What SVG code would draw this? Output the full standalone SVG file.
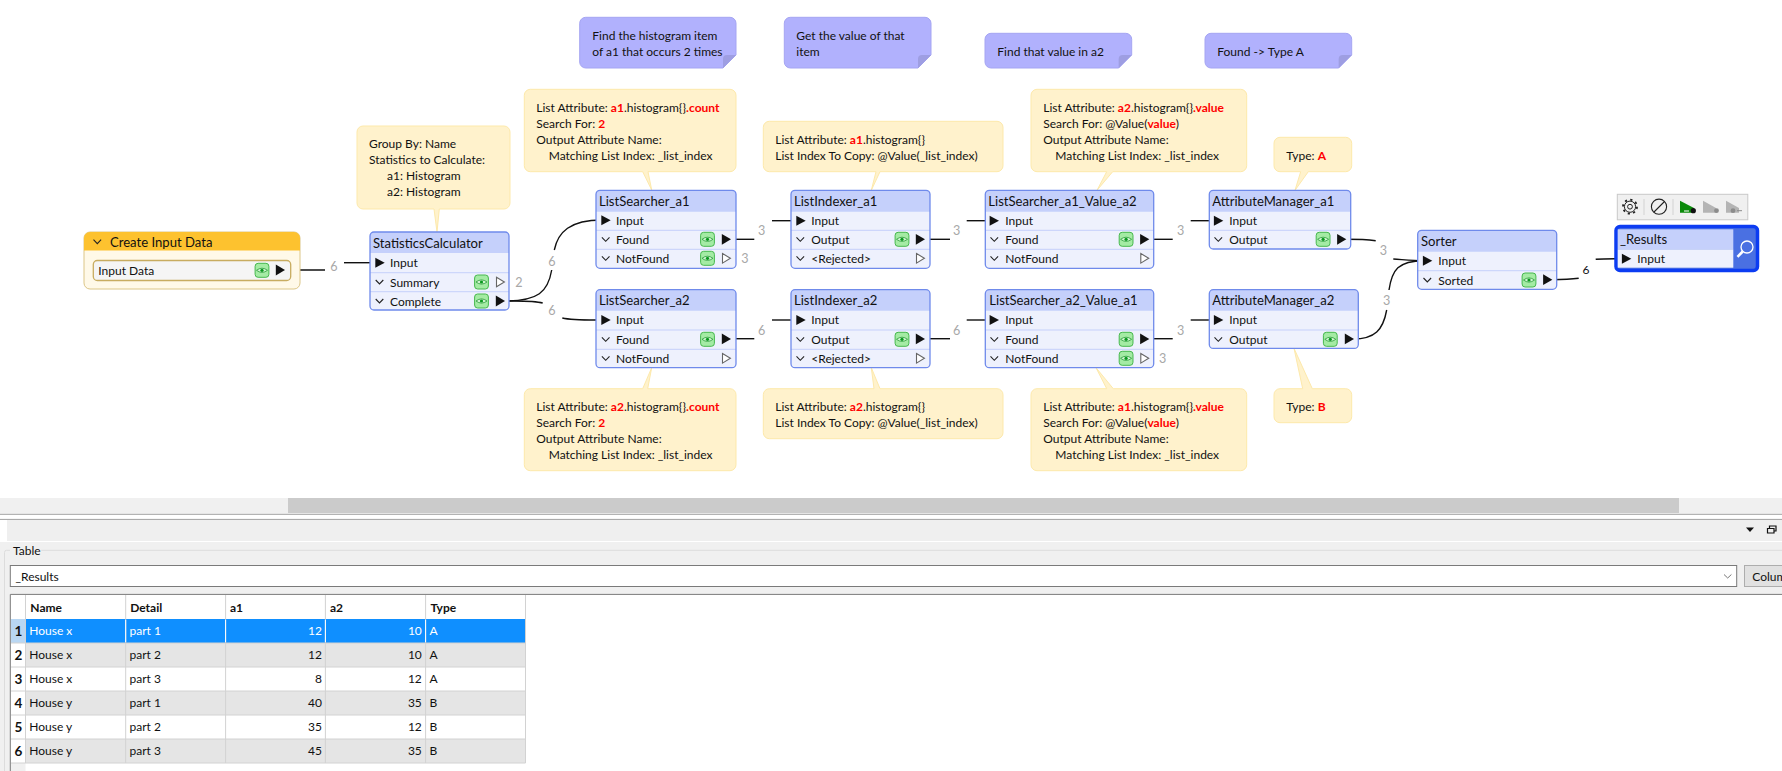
<svg xmlns="http://www.w3.org/2000/svg" width="1782" height="771" viewBox="0 0 1782 771">
<style>
text{font-family:Lato,"Open Sans","Liberation Sans",sans-serif;font-size:12px;fill:#111}
.t{font-size:13.1px}
.r{fill:#f00;font-weight:700}
.b{font-weight:700}
.n{font-weight:700;font-size:13.5px;text-anchor:middle}
.g{fill:#a8a8a8;text-anchor:middle;font-size:12.6px}
.w{fill:#fff}
.e{text-anchor:end}
.m{text-anchor:middle}
.body{fill:#eef1fd}
.head{fill:#c5d0fb}
.bord{fill:none;stroke:#6f8aeb;stroke-width:1.3}
.sep{stroke:#c5d0fb;stroke-width:1}
.bal{fill:#fff2cc;stroke:#fde9ab;stroke-width:1}
.note{fill:#b1b1fd;stroke:#a5a5f2;stroke-width:1}
.fold{fill:#9e9ee2}
.chev{fill:none;stroke:#222;stroke-width:1.1}
.con{fill:none;stroke:#111;stroke-width:1.4}
.cell{stroke:#d2d2d2;stroke-width:1}
</style>
<defs>
<g id="eye"><rect x="-6.9" y="-7" width="13.8" height="14" rx="3" fill="#a4eba4" stroke="#46b84e"/><path d="M-5.5,0Q0,-4.2 5.5,0Q0,4.2 -5.5,0Z" fill="#d4f5d4" stroke="#2a9a3a" stroke-width=".8"/><circle r="1.6" fill="#0a9a1e"/></g>
<path id="in" d="M-.4,-5L9,0L-.4,5Z" fill="#111"/>
<path id="out" d="M-.2,-5.4L9,0L-.2,5.4Z" fill="#111"/>
<path id="open" d="M.5,-4.8L8.4,0L.5,4.8Z" fill="#fff" stroke="#666" stroke-width="1.1"/>
<path id="ch" d="M-3.8,-2L0,2L3.8,-2" class="chev"/>
</defs>
<rect width="1782" height="771" fill="#fff"/>

<g id="note1"><path class="note" d="M585.7,17.3H730a6,6 0 0 1 6,6V55L723,68H585.7a6,6 0 0 1 -6,-6V23.3a6,6 0 0 1 6,-6Z"/><path class="fold" d="M736,55H727Q723,55 723,59V68Z"/><text x="592.3" y="39.7">Find the histogram item</text><text x="592.3" y="55.7">of a1 that occurs 2 times</text></g>
<g id="note2"><path class="note" d="M790.3,17.3H925a6,6 0 0 1 6,6V55L918,68H790.3a6,6 0 0 1 -6,-6V23.3a6,6 0 0 1 6,-6Z"/><path class="fold" d="M931,55H922Q918,55 918,59V68Z"/><text x="796.3" y="39.7">Get the value of that</text><text x="796.3" y="55.7">item</text></g>
<g id="note3"><path class="note" d="M991,33.3H1125.7a6,6 0 0 1 6,6V55L1118.7,68H991a6,6 0 0 1 -6,-6V39.3a6,6 0 0 1 6,-6Z"/><path class="fold" d="M1131.7,55H1122.7Q1118.7,55 1118.7,59V68Z"/><text x="997.3" y="55.7">Find that value in a2</text></g>
<g id="note4"><path class="note" d="M1211,33.3H1345.7a6,6 0 0 1 6,6V55L1338.7,68H1211a6,6 0 0 1 -6,-6V39.3a6,6 0 0 1 6,-6Z"/><path class="fold" d="M1351.7,55H1342.7Q1338.7,55 1338.7,59V68Z"/><text x="1217.3" y="55.7">Found -&gt; Type A</text></g>

<g id="balloon-stats"><path class="bal" d="M363,126H504a6,6 0 0 1 6,6V203a6,6 0 0 1 -6,6H439.3L437,232L434,209H363a6,6 0 0 1 -6,-6V132a6,6 0 0 1 6,-6Z"/><text x="369" y="148">Group By: Name</text><text x="369" y="164">Statistics to Calculate:</text><text x="387" y="180">a1: Histogram</text><text x="387" y="196">a2: Histogram</text></g>
<g id="balloon-ls-a1"><path class="bal" d="M530.3,89.3H730a6,6 0 0 1 6,6V165.7a6,6 0 0 1 -6,6H648L651.7,190L642.7,171.7H530.3a6,6 0 0 1 -6,-6V95.3a6,6 0 0 1 6,-6Z"/><text x="536.3" y="111.7">List Attribute: <tspan class="r">a1</tspan>.histogram{}<tspan class="r">.count</tspan></text><text x="536.3" y="127.7">Search For: <tspan class="r">2</tspan></text><text x="536.3" y="143.7">Output Attribute Name:</text><text x="548.7" y="160">Matching List Index: _list_index</text></g>
<g id="balloon-li-a1"><path class="bal" d="M769.3,121.3H997a6,6 0 0 1 6,6V165.7a6,6 0 0 1 -6,6H880L871.3,190.3L876,171.7H769.3a6,6 0 0 1 -6,-6V127.3a6,6 0 0 1 6,-6Z"/><text x="775.3" y="143.7">List Attribute: <tspan class="r">a1</tspan>.histogram{}</text><text x="775.3" y="160">List Index To Copy: @Value(_list_index)</text></g>
<g id="balloon-lsv-a2"><path class="bal" d="M1037,89.3H1240.7a6,6 0 0 1 6,6V165.7a6,6 0 0 1 -6,6H1112.7L1097,190.3L1106.7,171.7H1037a6,6 0 0 1 -6,-6V95.3a6,6 0 0 1 6,-6Z"/><text x="1043.3" y="111.7">List Attribute: <tspan class="r">a2</tspan>.histogram{}<tspan class="r">.value</tspan></text><text x="1043.3" y="127.7">Search For: @Value(<tspan class="r">value</tspan>)</text><text x="1043.3" y="143.7">Output Attribute Name:</text><text x="1055.3" y="160">Matching List Index: _list_index</text></g>
<g id="balloon-am-a1"><path class="bal" d="M1280,137.3H1345.7a6,6 0 0 1 6,6V165.7a6,6 0 0 1 -6,6H1308.3L1295,190.3L1300.7,171.7H1280a6,6 0 0 1 -6,-6V143.3a6,6 0 0 1 6,-6Z"/><text x="1286.3" y="160">Type: <tspan class="r">A</tspan></text></g>
<g id="balloon-ls-a2"><path class="bal" d="M530.3,388.7H642.7L651.7,367.7L647.7,388.7H730a6,6 0 0 1 6,6V464.7a6,6 0 0 1 -6,6H530.3a6,6 0 0 1 -6,-6V394.7a6,6 0 0 1 6,-6Z"/><text x="536.3" y="410.7">List Attribute: <tspan class="r">a2</tspan>.histogram{}<tspan class="r">.count</tspan></text><text x="536.3" y="426.7">Search For: <tspan class="r">2</tspan></text><text x="536.3" y="442.7">Output Attribute Name:</text><text x="548.7" y="458.7">Matching List Index: _list_index</text></g>
<g id="balloon-li-a2"><path class="bal" d="M769.3,388.7H874L871.3,367.7L880,388.7H997a6,6 0 0 1 6,6V432.7a6,6 0 0 1 -6,6H769.3a6,6 0 0 1 -6,-6V394.7a6,6 0 0 1 6,-6Z"/><text x="775.3" y="410.7">List Attribute: <tspan class="r">a2</tspan>.histogram{}</text><text x="775.3" y="426.7">List Index To Copy: @Value(_list_index)</text></g>
<g id="balloon-lsv-a1"><path class="bal" d="M1037,388.7H1106.7L1096,367.7L1113.3,388.7H1240.7a6,6 0 0 1 6,6V464.7a6,6 0 0 1 -6,6H1037a6,6 0 0 1 -6,-6V394.7a6,6 0 0 1 6,-6Z"/><text x="1043.3" y="410.7">List Attribute: <tspan class="r">a1</tspan>.histogram{}<tspan class="r">.value</tspan></text><text x="1043.3" y="426.7">Search For: @Value(<tspan class="r">value</tspan>)</text><text x="1043.3" y="442.7">Output Attribute Name:</text><text x="1055.3" y="458.7">Matching List Index: _list_index</text></g>
<g id="balloon-am-a2"><path class="bal" d="M1280,388.7H1302.7L1294,348.3L1312.3,388.7H1345.7a6,6 0 0 1 6,6V416.7a6,6 0 0 1 -6,6H1280a6,6 0 0 1 -6,-6V394.7a6,6 0 0 1 6,-6Z"/><text x="1286.3" y="410.7">Type: <tspan class="r">B</tspan></text></g>

<g id="connectors">
<path class="con" d="M287,270H325"/>
<path class="con" d="M344,262.7H376"/>
<path class="con" d="M505,301C538,301 548,292 551.7,270"/>
<path class="con" d="M554.3,250C558,232 570,220 602,220"/>
<path class="con" d="M505,301C520,301 534,300.5 542.7,303"/>
<path class="con" d="M562.3,318C572,320.3 585,320 602,320"/>
<path class="con" d="M730,239.3H754.3"/>
<path class="con" d="M772,220.7H797"/>
<path class="con" d="M925,239.3H950"/>
<path class="con" d="M966.7,220.7H990"/>
<path class="con" d="M1149,239.3H1172.7"/>
<path class="con" d="M1190.7,220.7H1215"/>
<path class="con" d="M1346,239.3C1356,239.3 1366,239.5 1375.7,240.7"/>
<path class="con" d="M1393.3,259C1403,259.6 1412,260.7 1424,260.7"/>
<path class="con" d="M730,338.7H754.3"/>
<path class="con" d="M772,320H797"/>
<path class="con" d="M925,338.7H950"/>
<path class="con" d="M966.7,320H990"/>
<path class="con" d="M1149,338.7H1172.7"/>
<path class="con" d="M1190.7,320H1215"/>
<path class="con" d="M1353,339C1375,339 1383,330 1386.7,310"/>
<path class="con" d="M1389,290C1392,270 1398,260.7 1424,260.7"/>
<path class="con" d="M1552,279.7C1562,279.7 1570,279.5 1578.7,278.3"/>
<path class="con" d="M1595.7,259.3C1604,258.5 1612,258.7 1623,258.7"/>
<text class="g" x="334" y="271">6</text>
<text class="g" x="519" y="286.5">2</text>
<text class="g" x="552" y="266">6</text>
<text class="g" x="552" y="314.5">6</text>
<text class="g" x="745" y="263">3</text>
<text class="g" x="761.7" y="235">3</text>
<text class="g" x="956.7" y="235">3</text>
<text class="g" x="1180.7" y="235">3</text>
<text class="g" x="1383.5" y="254.5">3</text>
<text class="g" x="761.7" y="335">6</text>
<text class="g" x="956.7" y="335">6</text>
<text class="g" x="1180.7" y="335">3</text>
<text class="g" x="1162.7" y="362.5">3</text>
<text class="g" x="1386.7" y="305">3</text>
<text x="1586" y="274" class="m">6</text>
</g>

<g id="CreateInputData" transform="translate(84,232)">
<rect width="216" height="57" rx="6" fill="#fff9e8" stroke="#dcc687"/>
<path d="M0,18.6V6a6,6 0 0 1 6,-6H210a6,6 0 0 1 6,6V18.6Z" fill="#fdc22f"/>
<use href="#ch" x="13.3" y="9.7"/>
<text class="t" x="26" y="15.3">Create Input Data</text>
<rect x="9.3" y="28.5" width="197.4" height="20" rx="4" fill="#f5f5f5" stroke="#c8ac60" stroke-width="1.3"/>
<text x="14.3" y="43">Input Data</text>
<use href="#eye" x="178" y="38.3"/>
<use href="#out" x="192" y="38"/>
</g>

<g id="StatisticsCalculator" transform="translate(370,232)">
<rect class="body" width="139" height="78" rx="4"/>
<path class="head" d="M0,21V4a4,4 0 0 1 4,-4H135a4,4 0 0 1 4,4V21Z"/>
<path class="sep" d="M0,40.7H139M0,59.7H139"/>
<text class="t" x="3" y="16">StatisticsCalculator</text>
<use href="#in" x="5.7" y="30.7"/><text x="20" y="35">Input</text>
<use href="#ch" x="9.5" y="50"/><text x="20" y="54.5">Summary</text>
<use href="#eye" x="111.5" y="50"/><use href="#open" x="126" y="50"/>
<use href="#ch" x="9.5" y="69"/><text x="20" y="73.5">Complete</text>
<use href="#eye" x="111.5" y="69"/><use href="#out" x="126" y="69"/>
<rect class="bord" width="139" height="78" rx="4"/>
</g>

<g id="ListSearcher_a1" transform="translate(596,190.3)">
<rect class="body" width="140" height="78" rx="4"/>
<path class="head" d="M0,21.4V4a4,4 0 0 1 4,-4H136a4,4 0 0 1 4,4V21.4Z"/>
<path class="sep" d="M0,40H140M0,59H140"/>
<text class="t" x="3" y="15.7">ListSearcher_a1</text>
<use href="#in" x="5.7" y="30"/><text x="20" y="34.5">Input</text>
<use href="#ch" x="9.7" y="49"/><text x="20" y="53.5">Found</text>
<use href="#eye" x="111.5" y="49"/><use href="#out" x="126" y="49"/>
<use href="#ch" x="9.7" y="68"/><text x="20" y="72.5">NotFound</text>
<use href="#eye" x="111.5" y="68"/><use href="#open" x="126" y="68"/>
<rect class="bord" width="140" height="78" rx="4"/>
</g>

<g id="ListSearcher_a2" transform="translate(596,289.7)">
<rect class="body" width="140" height="78" rx="4"/>
<path class="head" d="M0,21V4a4,4 0 0 1 4,-4H136a4,4 0 0 1 4,4V21Z"/>
<path class="sep" d="M0,40.3H140M0,59.6H140"/>
<text class="t" x="3" y="15.7">ListSearcher_a2</text>
<use href="#in" x="5.7" y="30.3"/><text x="20" y="34.8">Input</text>
<use href="#ch" x="9.7" y="49.6"/><text x="20" y="54">Found</text>
<use href="#eye" x="111.5" y="49.6"/><use href="#out" x="126" y="49.2"/>
<use href="#ch" x="9.7" y="68.6"/><text x="20" y="73">NotFound</text>
<use href="#open" x="126" y="68.6"/>
<rect class="bord" width="140" height="78" rx="4"/>
</g>

<g id="ListIndexer_a1" transform="translate(791,190.3)">
<rect class="body" width="139" height="78" rx="4"/>
<path class="head" d="M0,21.4V4a4,4 0 0 1 4,-4H135a4,4 0 0 1 4,4V21.4Z"/>
<path class="sep" d="M0,40H139M0,59H139"/>
<text class="t" x="3" y="15.7">ListIndexer_a1</text>
<use href="#in" x="5.7" y="30.4"/><text x="20.3" y="34.9">Input</text>
<use href="#ch" x="9.3" y="49"/><text x="20.3" y="53.5">Output</text>
<use href="#eye" x="111" y="49"/><use href="#out" x="125" y="49"/>
<use href="#ch" x="9.3" y="68"/><text x="20.3" y="72.5">&lt;Rejected&gt;</text>
<use href="#open" x="125" y="68"/>
<rect class="bord" width="139" height="78" rx="4"/>
</g>

<g id="ListIndexer_a2" transform="translate(791,289.7)">
<rect class="body" width="139" height="78" rx="4"/>
<path class="head" d="M0,21V4a4,4 0 0 1 4,-4H135a4,4 0 0 1 4,4V21Z"/>
<path class="sep" d="M0,40.3H139M0,59.6H139"/>
<text class="t" x="3" y="15.7">ListIndexer_a2</text>
<use href="#in" x="5.7" y="30.3"/><text x="20.3" y="34.8">Input</text>
<use href="#ch" x="9.3" y="49.6"/><text x="20.3" y="54">Output</text>
<use href="#eye" x="111" y="49.6"/><use href="#out" x="125" y="49.2"/>
<use href="#ch" x="9.3" y="68.6"/><text x="20.3" y="73">&lt;Rejected&gt;</text>
<use href="#open" x="125" y="68.6"/>
<rect class="bord" width="139" height="78" rx="4"/>
</g>

<g id="ListSearcher_a1_Value_a2" transform="translate(985.3,190.3)">
<rect class="body" width="168.4" height="78" rx="4"/>
<path class="head" d="M0,21.4V4a4,4 0 0 1 4,-4H164.4a4,4 0 0 1 4,4V21.4Z"/>
<path class="sep" d="M0,40H168.4M0,59H168.4"/>
<text class="t" x="3" y="15.7">ListSearcher_a1_Value_a2</text>
<use href="#in" x="4.7" y="30.4"/><text x="20" y="34.9">Input</text>
<use href="#ch" x="9" y="49"/><text x="20" y="53.5">Found</text>
<use href="#eye" x="140.8" y="49"/><use href="#out" x="155" y="49"/>
<use href="#ch" x="9" y="68"/><text x="20" y="72.5">NotFound</text>
<use href="#open" x="155" y="68"/>
<rect class="bord" width="168.4" height="78" rx="4"/>
</g>

<g id="ListSearcher_a2_Value_a1" transform="translate(985.3,289.7)">
<rect class="body" width="168.4" height="78" rx="4"/>
<path class="head" d="M0,21V4a4,4 0 0 1 4,-4H164.4a4,4 0 0 1 4,4V21Z"/>
<path class="sep" d="M0,40.3H168.4M0,59.6H168.4"/>
<text class="t" x="4" y="15.7">ListSearcher_a2_Value_a1</text>
<use href="#in" x="4.7" y="30.3"/><text x="20" y="34.8">Input</text>
<use href="#ch" x="9" y="49.6"/><text x="20" y="54">Found</text>
<use href="#eye" x="140.8" y="49.6"/><use href="#out" x="155" y="49.2"/>
<use href="#ch" x="9" y="68.6"/><text x="20" y="73">NotFound</text>
<use href="#eye" x="140.8" y="68.6"/><use href="#open" x="155" y="68.6"/>
<rect class="bord" width="168.4" height="78" rx="4"/>
</g>

<g id="AttributeManager_a1" transform="translate(1209.3,190.3)">
<rect class="body" width="141.4" height="58.7" rx="4"/>
<path class="head" d="M0,21.4V4a4,4 0 0 1 4,-4H137.4a4,4 0 0 1 4,4V21.4Z"/>
<path class="sep" d="M0,40H141.4"/>
<text class="t" x="3" y="15.7">AttributeManager_a1</text>
<use href="#in" x="5" y="30.4"/><text x="20" y="34.9">Input</text>
<use href="#ch" x="9" y="49"/><text x="20" y="53.5">Output</text>
<use href="#eye" x="113.8" y="49"/><use href="#out" x="128" y="49"/>
<rect class="bord" width="141.4" height="58.7" rx="4"/>
</g>

<g id="AttributeManager_a2" transform="translate(1209.3,289.7)">
<rect class="body" width="149" height="58.7" rx="4"/>
<path class="head" d="M0,21V4a4,4 0 0 1 4,-4H145a4,4 0 0 1 4,4V21Z"/>
<path class="sep" d="M0,40.3H149"/>
<text class="t" x="3" y="15.7">AttributeManager_a2</text>
<use href="#in" x="5" y="30.3"/><text x="20" y="34.8">Input</text>
<use href="#ch" x="9" y="49.6"/><text x="20" y="54">Output</text>
<use href="#eye" x="121" y="49.6"/><use href="#out" x="135.7" y="49.2"/>
<rect class="bord" width="149" height="58.7" rx="4"/>
</g>

<g id="Sorter" transform="translate(1417.7,230.3)">
<rect class="body" width="139" height="59" rx="4"/>
<path class="head" d="M0,21.4V4a4,4 0 0 1 4,-4H135a4,4 0 0 1 4,4V21.4Z"/>
<path class="sep" d="M0,40.4H139"/>
<text class="t" x="3.3" y="16">Sorter</text>
<use href="#in" x="5.6" y="30.4"/><text x="20.6" y="35">Input</text>
<use href="#ch" x="9.6" y="49.7"/><text x="20.6" y="54.3">Sorted</text>
<use href="#eye" x="111.3" y="49.7"/><use href="#out" x="125.6" y="49.4"/>
<rect class="bord" width="139" height="59" rx="4"/>
</g>

<g id="_Results">
<rect x="1616" y="226.5" width="141.5" height="44" rx="4" fill="#4a70e2" stroke="#0c3cf2" stroke-width="3.5"/>
<rect x="1617.7" y="229.3" width="115.6" height="20" fill="#c5d0fb"/>
<rect x="1617.7" y="249.3" width="115.6" height="18.4" fill="#eef1fd"/>
<text class="t" x="1620" y="244">_Results</text>
<use href="#in" x="1622.3" y="258.7"/><text x="1637.3" y="263">Input</text>
<circle cx="1747" cy="247" r="6" fill="none" stroke="#fff" stroke-width="1.3"/>
<path d="M1742.7,251.5L1737.5,256.8" stroke="#fff" stroke-width="2.6" fill="none"/>
</g>

<g id="toolbar">
<rect x="1617.3" y="194.3" width="130.5" height="25.5" fill="#f0f0f0" stroke="#c8c8c8"/>
<path d="M1644,199V215M1673,199V215" stroke="#dcdcdc" stroke-width="1.5"/>
<circle cx="1630" cy="206.7" r="5.6" fill="none" stroke="#222" stroke-width="1"/>
<circle cx="1630" cy="206.7" r="7" fill="none" stroke="#222" stroke-width="1.8" stroke-dasharray="2.2 3.3"/>
<circle cx="1630" cy="206.7" r="2.4" fill="none" stroke="#222" stroke-width="1"/>
<circle cx="1659" cy="206.7" r="7.6" fill="none" stroke="#222" stroke-width="1.1"/>
<path d="M1654,212L1664.5,201.5" stroke="#222" stroke-width="1.1"/>
<path d="M1680,200.7L1694,208V212.7H1680Z" fill="#0a8a0a"/><circle cx="1693.3" cy="210.7" r="2.6" fill="#111"/><path d="M1684,211H1689" stroke="#fff" stroke-width="1"/>
<path d="M1703,200.7L1716,208V212.7H1703Z" fill="#b4b4b4"/><circle cx="1716.5" cy="210.7" r="2.4" fill="#8c8c8c"/>
<path d="M1726,200.7L1739,208V212.7H1726Z" fill="#b4b4b4"/><circle cx="1733" cy="210.7" r="2.4" fill="#8c8c8c"/><path d="M1737,210.7H1742" stroke="#8c8c8c"/>
</g>

<g id="scrollbar">
<rect x="0" y="498" width="1782" height="15.5" fill="#f0f0f0"/>
<rect x="288" y="498" width="1391" height="15" fill="#cbcbcb"/>
<path d="M0,514.3H1782M0,519.4H1782" stroke="#a0a0a0" stroke-width="1"/>
</g>

<g id="panel">
<rect x="7" y="520" width="1775" height="21" fill="#efefef"/>
<rect x="0" y="542" width="1782" height="229" fill="#f0f0f0"/>
<path d="M1746,527.5H1754L1750,532Z" fill="#111"/>
<path d="M1767.5,528.5H1774V533H1767.5ZM1769.5,528V526H1776V531H1774.5" fill="none" stroke="#111" stroke-width="1.2"/>
<path d="M41.3,550.3H1782M10,550.3H6.5Q4.5,550.3 4.5,552.5V771" fill="none" stroke="#dcdcdc"/>
<text x="13" y="555">Table</text>
<rect x="10.3" y="565.5" width="1726.4" height="21" fill="#fff" stroke="#7a7a7a"/>
<text x="15.5" y="581">_Results</text>
<path d="M1724,574.5L1727.7,578L1731.4,574.5" fill="none" stroke="#777"/>
<rect x="1744.5" y="565.5" width="40" height="21" fill="#e1e1e1" stroke="#adadad"/>
<text x="1752.3" y="581">Colum</text>
</g>

<g id="table">
<rect x="10.5" y="594.5" width="1772" height="177" fill="#fff"/>
<rect x="10.5" y="763" width="15" height="8" fill="#f0f0f0"/>
<path d="M10.3,771V594.4H1782" fill="none" stroke="#7a7a7a"/>
<rect x="11" y="619" width="14.5" height="24" fill="#b9d7f3"/>
<rect x="25.5" y="619" width="500" height="24" fill="#0f8fff"/>
<rect x="25.5" y="643" width="500" height="24" fill="#e5e5e5"/>
<rect x="25.5" y="691" width="500" height="24" fill="#e5e5e5"/>
<rect x="25.5" y="739" width="500" height="24" fill="#e5e5e5"/>
<path class="cell" d="M25.5,595V763M125.7,595V763M225.6,595V763M325.4,595V763M425.6,595V763M525.5,595V763M11,667H525.5M11,691H525.5M11,715H525.5M11,739H525.5M11,763H525.5M11,643H525.5"/>
<path d="M125.7,620V642M225.6,620V642M325.4,620V642M425.6,620V642" stroke="#fff"/>
<text class="b" x="30.3" y="612.3">Name</text><text class="b" x="130.2" y="612.3">Detail</text><text class="b" x="230" y="612.3">a1</text><text class="b" x="329.9" y="612.3">a2</text><text class="b" x="430.4" y="612.3">Type</text>
<text class="n" x="18.3" y="635.7">1</text><text class="w" x="29.3" y="635">House x</text><text class="w" x="129.5" y="635">part 1</text><text class="w e" x="322" y="635">12</text><text class="w e" x="421.8" y="635">10</text><text class="w" x="429.4" y="635">A</text>
<text class="n" x="18.3" y="659.7">2</text><text x="29.3" y="659">House x</text><text x="129.5" y="659">part 2</text><text class="e" x="322" y="659">12</text><text class="e" x="421.8" y="659">10</text><text x="429.4" y="659">A</text>
<text class="n" x="18.3" y="683.7">3</text><text x="29.3" y="683">House x</text><text x="129.5" y="683">part 3</text><text class="e" x="322" y="683">8</text><text class="e" x="421.8" y="683">12</text><text x="429.4" y="683">A</text>
<text class="n" x="18.3" y="707.7">4</text><text x="29.3" y="707">House y</text><text x="129.5" y="707">part 1</text><text class="e" x="322" y="707">40</text><text class="e" x="421.8" y="707">35</text><text x="429.4" y="707">B</text>
<text class="n" x="18.3" y="731.7">5</text><text x="29.3" y="731">House y</text><text x="129.5" y="731">part 2</text><text class="e" x="322" y="731">35</text><text class="e" x="421.8" y="731">12</text><text x="429.4" y="731">B</text>
<text class="n" x="18.3" y="755.7">6</text><text x="29.3" y="755">House y</text><text x="129.5" y="755">part 3</text><text class="e" x="322" y="755">45</text><text class="e" x="421.8" y="755">35</text><text x="429.4" y="755">B</text>
</g>
</svg>
